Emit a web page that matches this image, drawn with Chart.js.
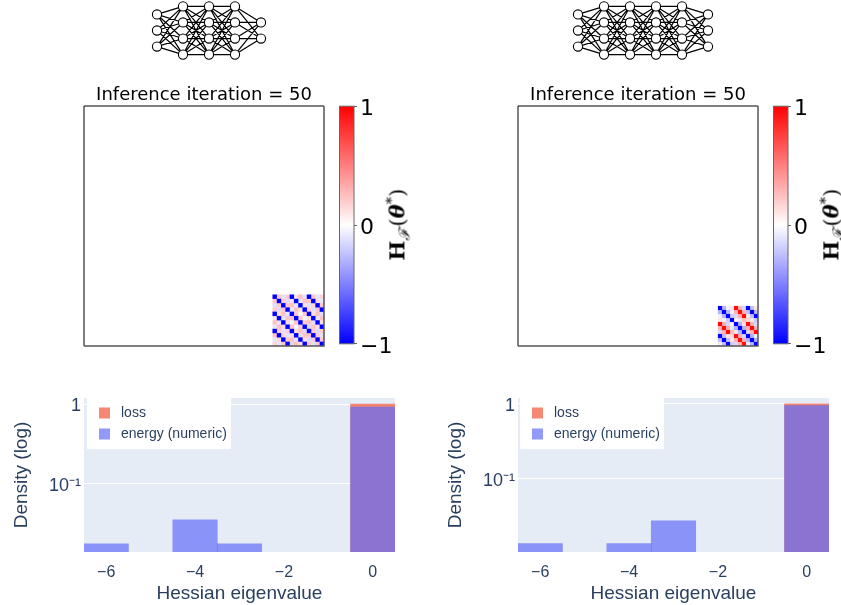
<!DOCTYPE html>
<html>
<head>
<meta charset="utf-8">
<script src="https://cdn.jsdelivr.net/npm/chart.js@4"></script>
<style>
  body { margin: 0; background: #fff; }
  #page { position: relative; width: 841px; height: 605px; overflow: hidden; }
  canvas { position: absolute; }
  .cblabel {
    position: absolute; width: 100px; text-align: center; white-space: nowrap;
    font: 21px "DejaVu Serif", serif; color: #000;
    transform: rotate(-90deg); transform-origin: center; will-change: transform;
  }
  .cblabel sub { font-size: 15px; font-style: italic; margin: 0 2px 0 0; }
  .cblabel sup { font-size: 15px; }
</style>
</head>
<body>
<div id="page">
  <div class="cblabel" style="left:348px;top:209px"><b>H</b><sub>ℱ</sub>(<b><i>θ</i></b><sup>*</sup>)</div>
  <div class="cblabel" style="left:782px;top:209px"><b>H</b><sub>ℱ</sub>(<b><i>θ</i></b><sup>*</sup>)</div>
</div>
<script>
// network sketches: nodes per layer
const netLeftLayers = [3, 4, 4, 4, 2];
const netRightLayers = [3, 4, 4, 4, 4, 3];

// heatmap, only the non-zero corner is listed
const sizeLeft = 56;
const hessLeft = [
  [-1, .22, -.12, .2, -1, .1, .24, -.1, -1, .22, -.1, .16],
  [.22, -1, .2, -.14, .12, -1, -.1, .24, .2, -1, .14, -.1],
  [-.12, .2, -1, .22, .24, -.1, -1, .12, -.12, .16, -1, .22],
  [.2, -.14, .22, -1, -.1, .24, .12, -1, .18, -.12, .22, -1],
  [-1, .12, .24, -.1, -1, .2, -.04, .22, -1, .12, .24, -.14],
  [.1, -1, -.1, .24, .2, -1, .22, -.04, .14, -1, -.1, .24],
  [.24, -.1, -1, .12, -.04, .22, -1, .2, .24, -.12, -1, .14],
  [-.1, .24, .12, -1, .22, -.04, .2, -1, -.14, .24, .12, -1],
  [-1, .2, -.12, .18, -1, .14, .24, -.14, -1, .22, -.14, .2],
  [.22, -1, .16, -.12, .12, -1, -.12, .24, .22, -1, .2, -.12],
  [-.1, .14, -1, .22, .24, -.1, -1, .12, -.14, .2, -1, .22],
  [.16, -.1, .22, -1, -.14, .24, .14, -1, .2, -.12, .22, -1]
];
const sizeRight = 60;
const hessRight = [
  [-1, -.3, -.05, .1, .95, .3, -.15, -1, -.25, .1],
  [-.3, -1, -.3, -.05, .3, .95, .3, -.25, -1, -.25],
  [-.05, -.3, -1, -.2, -.15, .3, .95, .1, -.25, -1],
  [.1, -.05, -.2, -1, .05, -.1, .25, .15, .1, -.2],
  [.95, .3, -.15, .05, -1, -.3, .1, .95, .3, -.15],
  [.3, .95, .3, -.1, -.3, -1, -.3, .3, .95, .3],
  [-.15, .3, .95, .25, .1, -.3, -1, -.15, .3, .95],
  [-1, -.25, .1, .15, .95, .3, -.15, -1, -.3, -.05],
  [-.25, -1, -.25, .1, .3, .95, .3, -.3, -1, -.3],
  [.1, -.25, -1, -.2, -.15, .3, .95, -.05, -.3, -1]
];

// colour bar
const cbarRange = [-1, 1];
const cbarTicks = [-1, 0, 1];

// histograms
const histBins = [-6, -5, -4, -3, -2, -1, 0];
const histXTicks = [-6, -4, -2, 0];
const histYTicks = [0.1, 1];
const lossLeft = [null, null, null, null, null, null, 1];
const energyLeft = [0.0178, null, 0.0357, 0.0178, null, null, 0.915];
const lossRight = [null, null, null, null, null, null, 1];
const energyRight = [0.0136, null, 0.0136, 0.0275, null, null, 0.95];

const sansFont = '"Liberation Sans", Arial, sans-serif';
const dejaFont = '"DejaVu Sans", sans-serif';
const inkBlue = '#2a3f5f';

const page = document.getElementById('page');
function addCanvas(left, top, w, h) {
  const c = document.createElement('canvas');
  c.width = w; c.height = h;
  c.style.left = left + 'px';
  c.style.top = top + 'px';
  c.style.width = w + 'px';
  c.style.height = h + 'px';
  page.appendChild(c);
  return c;
}

// blue - white - red
function bwr(v) {
  if (v >= 0) {
    const g = Math.round(255 * (1 - v));
    return `rgb(255,${g},${g})`;
  }
  const g = Math.round(255 * (1 + v));
  return `rgb(${g},${g},255)`;
}

function drawNetwork(left, layers) {
  const nodes = [];
  const edges = [];
  layers.forEach((n, i) => {
    const ys = n === 4 ? [1.5, 0.5, -0.5, -1.5] : n === 3 ? [1, 0, -1] : [0.5, -0.5];
    ys.forEach(y => nodes.push({ x: i, y: y, layer: i }));
  });
  nodes.forEach(a => {
    nodes.forEach(b => {
      if (b.layer === a.layer + 1) {
        edges.push({ x: a.x, y: a.y }, { x: b.x, y: b.y }, { x: NaN, y: NaN });
      }
    });
  });
  const w = 26 * layers.length;
  new Chart(addCanvas(left, 0, w, 61), {
    type: 'scatter',
    data: {
      datasets: [
        { data: nodes, pointRadius: 4.6, borderWidth: 1.1, pointBackgroundColor: '#fff', pointBorderColor: '#000', order: 1 },
        { data: edges, showLine: true, spanGaps: false, pointRadius: 0, borderColor: '#000', borderWidth: 1.2, order: 2 }
      ]
    },
    options: {
      responsive: false,
      animation: false,
      events: [],
      layout: { autoPadding: false },
      plugins: { legend: { display: false }, tooltip: { enabled: false } },
      scales: {
        x: { display: false, min: -0.5, max: layers.length - 0.5 },
        y: { display: false, min: -1.9, max: 1.9 }
      }
    }
  });
}

const framePlugin = {
  id: 'frame',
  afterDraw(chart) {
    const { ctx, chartArea: a } = chart;
    ctx.save();
    ctx.lineWidth = 1;
    ctx.strokeStyle = '#000';
    ctx.beginPath();
    ctx.moveTo(a.left, a.bottom);
    ctx.lineTo(a.left, a.top);
    ctx.lineTo(a.right, a.top);
    ctx.stroke();
    ctx.lineWidth = 1.5;
    ctx.strokeStyle = '#555';
    ctx.beginPath();
    ctx.moveTo(a.left, a.bottom);
    ctx.lineTo(a.right, a.bottom);
    ctx.lineTo(a.right, a.top);
    ctx.stroke();
    ctx.restore();
  }
};

const cbarFrame = {
  id: 'cbarFrame',
  afterDraw(chart) {
    const { ctx, chartArea: a } = chart;
    ctx.save();
    ctx.lineWidth = 1;
    ctx.strokeStyle = '#666';
    ctx.strokeRect(a.left, a.top, a.right - a.left, a.bottom - a.top);
    ctx.restore();
  }
};

function drawHeatmap(left, size, matrix) {
  const start = size - matrix.length;
  const cells = [];
  matrix.forEach((row, r) => {
    row.forEach((v, c) => {
      cells.push({ x: start + c + 0.5, y: start + r + 0.5, v: v });
    });
  });
  // strong cells last so the pale edges don't eat into them
  cells.sort((a, b) => Math.abs(a.v) - Math.abs(b.v));
  new Chart(addCanvas(left, 80, 270, 276), {
    type: 'scatter',
    data: {
      datasets: [{
        data: cells,
        pointStyle: 'rect',
        pointRadius: 1.04 * 240 / size / Math.SQRT2,
        borderWidth: 0,
        pointBorderWidth: 0,
        pointBackgroundColor: cells.map(c => bwr(c.v))
      }]
    },
    options: {
      responsive: false,
      animation: false,
      events: [],
      layout: { autoPadding: false, padding: { left: 14, right: 16, bottom: 10 } },
      plugins: {
        legend: { display: false },
        tooltip: { enabled: false },
        title: {
          display: true,
          text: 'Inference iteration = 50',
          color: '#000',
          font: { family: dejaFont, size: 18, weight: 'normal' },
          padding: { top: 4.4, bottom: 0 }
        }
      },
      scales: {
        x: { display: false, min: 0, max: size },
        y: { display: false, reverse: true, min: 0, max: size }
      }
    },
    plugins: [framePlugin]
  });
}

function drawColorbar(left) {
  new Chart(addCanvas(left, 90, 76, 270), {
    type: 'bar',
    data: {
      labels: [''],
      datasets: [{
        data: [cbarRange],
        barPercentage: 1,
        categoryPercentage: 1,
        backgroundColor(ctx) {
          const a = ctx.chart.chartArea;
          if (!a) return '#fff';
          const g = ctx.chart.ctx.createLinearGradient(0, a.bottom, 0, a.top);
          g.addColorStop(0, bwr(-1));
          g.addColorStop(0.5, bwr(0));
          g.addColorStop(1, bwr(1));
          return g;
        }
      }]
    },
    options: {
      responsive: false,
      animation: false,
      events: [],
      layout: { autoPadding: false, padding: { left: 9.5, top: 16, bottom: 14 } },
      plugins: { legend: { display: false }, tooltip: { enabled: false } },
      scales: {
        x: { display: false },
        y: {
          position: 'right',
          min: -1,
          max: 1,
          afterBuildTicks(s) { s.ticks = cbarTicks.map(v => ({ value: v })); },
          afterFit(s) { s.width = 52; },
          grid: { drawOnChartArea: false, drawTicks: true, tickLength: 3, color: '#666' },
          border: { display: false },
          ticks: {
            color: '#000',
            padding: 3,
            labelOffset: 3,
            font: { family: dejaFont, size: 22 },
            callback: v => String(v).replace('-', '\u2212')
          }
        }
      }
    },
    plugins: [cbarFrame]
  });
}

const histBack = {
  id: 'histBack',
  beforeDraw(chart) {
    const { ctx, chartArea: a } = chart;
    ctx.save();
    ctx.fillStyle = '#E5ECF6';
    ctx.fillRect(a.left, a.top, a.right - a.left, a.bottom - a.top);
    ctx.restore();
  }
};
const histLegend = {
  id: 'histLegend',
  afterDraw(chart, args, opts) {
    const { ctx, chartArea: a } = chart;
    const x = a.left + opts.dx;
    ctx.save();
    ctx.fillStyle = '#fff';
    ctx.fillRect(x, a.top, 144, 51);
    ctx.font = '14px ' + sansFont;
    ctx.textBaseline = 'middle';
    chart.data.datasets.forEach((d, i) => {
      const y = a.top + 15 + 21 * i;
      ctx.fillStyle = d.backgroundColor;
      ctx.fillRect(x + 12, y - 5.5, 11, 11);
      ctx.fillStyle = inkBlue;
      ctx.fillText(d.label, x + 34, y + 0.5);
    });
    ctx.restore();
  }
};

function drawHistogram(left, loss, energy, yMin, yMax, legendDx) {
  new Chart(addCanvas(left, 380, 415, 225), {
    type: 'bar',
    data: {
      labels: histBins,
      datasets: [
        { label: 'loss', data: loss, backgroundColor: 'rgba(239,85,59,0.7)', grouped: false, order: 2, barPercentage: 1, categoryPercentage: 1 },
        { label: 'energy (numeric)', data: energy, backgroundColor: 'rgba(99,110,250,0.7)', grouped: false, order: 1, barPercentage: 1, categoryPercentage: 1 }
      ]
    },
    options: {
      responsive: false,
      animation: false,
      events: [],
      layout: { padding: { top: 18, right: 20 } },
      plugins: { legend: { display: false }, tooltip: { enabled: false }, histLegend: { dx: legendDx } },
      scales: {
        x: {
          afterFit(s) { s.height = 53; },
          grid: { display: false },
          border: { display: false },
          title: { display: true, text: 'Hessian eigenvalue', color: inkBlue, font: { family: sansFont, size: 19 }, padding: { top: 4, bottom: 0 } },
          ticks: {
            color: inkBlue,
            font: { family: sansFont, size: 16 },
            maxRotation: 0,
            autoSkip: false,
            padding: 3,
            callback(v) {
              const bin = histBins[v];
              return histXTicks.includes(bin) ? String(bin).replace('-', '\u2212') : '';
            }
          }
        },
        y: {
          type: 'logarithmic',
          min: yMin,
          max: yMax,
          afterBuildTicks(s) { s.ticks = histYTicks.map(v => ({ value: v })); },
          afterFit(s) { s.width = 84; },
          grid: { color: '#fff', lineWidth: 1, drawTicks: false },
          border: { display: false },
          title: { display: true, text: 'Density (log)', color: inkBlue, font: { family: sansFont, size: 19 }, padding: { top: 10, bottom: 0 } },
          ticks: {
            color: inkBlue,
            font: { family: sansFont, size: 18 },
            padding: 3,
            labelOffset: 2,
            callback: v => (v === 1 ? '1' : '10\u207B\u00B9')
          }
        }
      }
    },
    plugins: [histBack, histLegend]
  });
}

drawNetwork(144, netLeftLayers);
drawNetwork(565, netRightLayers);
drawHeatmap(70, sizeLeft, hessLeft);
drawHeatmap(504, sizeRight, hessRight);
drawColorbar(330);
drawColorbar(764);
drawHistogram(0, lossLeft, energyLeft, 0.0141, 1.19, 3);
drawHistogram(434, lossRight, energyRight, 0.0105, 1.2, 2);
</script>
</body>
</html>
